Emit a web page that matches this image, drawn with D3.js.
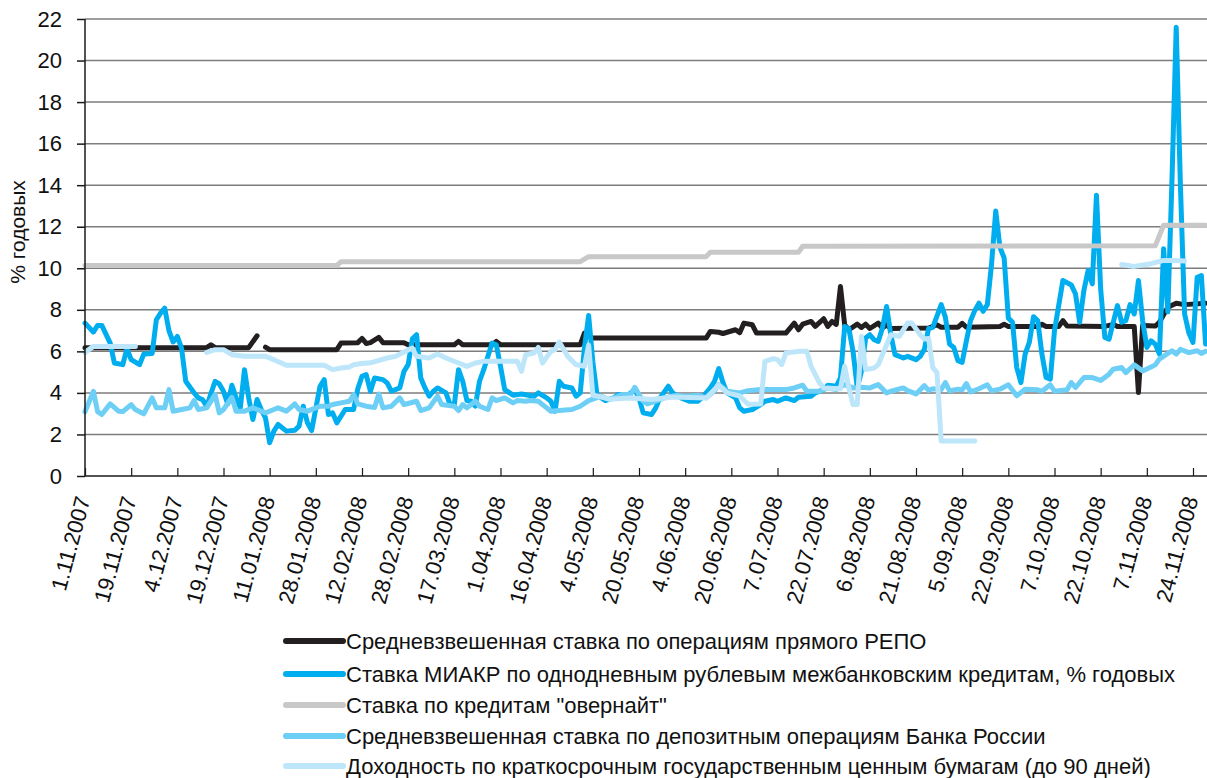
<!DOCTYPE html>
<html><head><meta charset="utf-8">
<script src="https://cdn.jsdelivr.net/npm/d3@7"></script>
<style>
html,body{margin:0;padding:0;background:#fff;}
svg{display:block;font-family:"Liberation Sans",Arial,Helvetica,sans-serif;}
</style></head>
<body>
<svg id="chart" width="1207" height="778"></svg>
<script>
// Tick labels (every 11th trading day)
const tickLabels = ["1.11.2007","19.11.2007","4.12.2007","19.12.2007","11.01.2008","28.01.2008","12.02.2008","28.02.2008","17.03.2008","1.04.2008","16.04.2008","4.05.2008","20.05.2008","4.06.2008","20.06.2008","7.07.2008","22.07.2008","6.08.2008","21.08.2008","5.09.2008","22.09.2008","7.10.2008","22.10.2008","7.11.2008","24.11.2008"];
const tickStep = 11;
const yTicks = [0,2,4,6,8,10,12,14,16,18,20,22];

const seriesNames = [
  "Средневзвешенная ставка по операциям прямого РЕПО",
  "Ставка МИАКР по однодневным рублевым межбанковским кредитам, % годовых",
  "Ставка по кредитам \"овернайт\"",
  "Средневзвешенная ставка по депозитным операциям Банка России",
  "Доходность по краткосрочным государственным ценным бумагам (до 90 дней)"
];
const seriesColors = ["#231f20","#00aeef","#c8c8c9","#6dcff6","#bde6fa"];

// [trading-day index, % per annum]; null = no data
const repo = [[0,6.18],[29,6.18],[30,6.32],[31,6.18],[39,6.18],[41,6.75],[42,null],[43,6.2],[44,6.08],[60,6.08],[61,6.4],[65,6.42],[66,6.62],[67,6.38],[68,6.42],[70,6.67],[71,6.42],[76,6.42],[77,6.32],[88,6.32],[89,6.48],[90,6.32],[97,6.32],[98,6.48],[99,6.32],[118,6.32],[119,6.88],[121,6.64],[148,6.64],[149,6.96],[151,6.92],[152,6.86],[155,7.04],[156,6.9],[157,7.36],[159,7.28],[160,6.88],[167,6.88],[169,7.36],[170,7.04],[171,7.31],[173,7.44],[174,7.2],[176,7.57],[177,7.2],[178,7.44],[179,7.3],[180,9.12],[181,7.28],[182,7.04],[184,7.31],[185,7.15],[186,7.31],[187,7.1],[189,7.36],[190,7.12],[191,7.28],[192,7.1],[201,7.12],[203,7.28],[204,7.16],[208,7.16],[209,7.35],[210,7.16],[218,7.2],[219,7.3],[220,7.2],[227,7.2],[228,7.3],[229,7.2],[232,7.2],[233,7.48],[234,7.22],[243,7.2],[245,7.3],[246,7.2],[250,7.2],[251,4.02],[252,7.25],[255,7.22],[256,7.4],[258,8.12],[260,8.32],[262,8.25],[267,8.32]];

const miakr = [[0,7.36],[2,6.93],[3,7.25],[4,7.25],[6,6.4],[7,5.44],[9,5.36],[10,6.13],[11,5.6],[13,5.36],[14,5.87],[16,5.9],[17,7.52],[18,7.84],[19,8.08],[20,7.0],[21,6.45],[22,6.72],[23,6.16],[24,4.56],[26,4.0],[27,3.76],[28,3.68],[29,3.36],[31,4.56],[32,4.43],[33,4.08],[34,3.47],[35,4.37],[36,3.76],[37,3.28],[38,5.12],[39,3.76],[40,2.72],[41,3.68],[42,3.2],[43,2.8],[44,1.6],[45,2.16],[46,2.48],[48,2.16],[50,2.2],[51,2.4],[52,3.36],[53,2.56],[54,2.19],[56,4.32],[57,4.64],[58,2.96],[59,3.04],[60,2.56],[62,3.2],[64,3.2],[65,4.2],[66,4.8],[67,4.88],[68,4.08],[69,4.72],[71,4.64],[72,4.48],[73,4.08],[75,4.24],[76,5.04],[77,5.36],[78,6.6],[79,6.8],[80,4.72],[81,4.24],[82,3.84],[83,4.08],[84,4.24],[86,4.0],[87,3.44],[88,3.44],[89,5.12],[90,4.56],[91,3.63],[92,3.6],[93,3.36],[94,4.56],[95,5.12],[96,5.76],[97,6.4],[98,6.32],[99,5.28],[100,4.16],[102,3.89],[104,3.95],[107,3.84],[108,4.0],[110,3.76],[111,3.6],[112,3.12],[113,4.56],[114,4.32],[116,4.24],[117,3.84],[118,4.0],[119,6.16],[120,7.73],[121,5.5],[122,3.9],[124,3.63],[126,3.76],[127,3.92],[129,3.84],[131,4.16],[132,3.76],[133,3.04],[135,2.96],[136,3.28],[137,3.76],[139,4.32],[140,4.0],[142,3.76],[144,3.6],[146,3.6],[147,3.76],[149,4.24],[150,4.56],[151,5.17],[152,4.5],[153,4.0],[155,3.76],[156,3.28],[157,3.12],[159,3.2],[161,3.44],[162,3.6],[164,3.68],[165,3.6],[167,3.76],[169,3.63],[170,3.79],[173,3.84],[174,4.0],[176,4.16],[177,4.37],[179,4.32],[180,4.72],[181,7.2],[182,7.1],[183,6.0],[184,4.24],[185,5.04],[186,6.64],[187,6.8],[188,6.56],[189,6.48],[190,7.12],[191,8.16],[192,6.8],[193,5.84],[195,5.68],[196,5.76],[198,5.6],[199,5.76],[200,6.1],[201,7.1],[202,7.16],[204,8.25],[205,7.64],[206,6.35],[207,6.19],[208,5.55],[209,5.47],[210,6.5],[211,7.48],[212,7.96],[213,8.32],[214,7.93],[215,8.25],[216,10.2],[217,12.76],[218,11.0],[219,10.5],[220,7.6],[221,7.4],[222,5.22],[223,4.5],[224,5.87],[225,6.43],[226,7.67],[227,7.48],[228,5.87],[229,4.74],[230,4.66],[231,7.0],[233,9.41],[234,9.3],[235,9.2],[236,8.77],[237,7.4],[238,8.93],[239,9.89],[240,9.25],[241,13.52],[242,9.0],[243,6.67],[244,6.59],[246,8.2],[247,7.4],[248,7.48],[249,8.25],[250,7.8],[251,9.41],[252,7.48],[253,6.19],[254,6.51],[255,6.35],[256,5.87],[257,10.94],[258,7.9],[259,14.3],[260,21.6],[261,14.0],[262,7.8],[263,6.9],[264,6.43],[265,9.57],[266,9.65],[267,6.35]];

const overnight = [[0,10.13],[60,10.13],[61,10.32],[118,10.32],[120,10.56],[148,10.56],[149,10.77],[170,10.77],[171,11.06],[255,11.08],[257,12.07],[267,12.07]];

const deposit = [[0,3.09],[2,4.08],[3,3.1],[4,2.96],[6,3.47],[8,3.12],[9,3.1],[11,3.44],[12,3.2],[14,2.99],[16,3.76],[17,3.28],[19,3.28],[20,4.16],[21,3.12],[23,3.2],[25,3.28],[26,3.63],[27,3.2],[29,3.28],[31,3.92],[32,3.04],[33,3.2],[35,3.79],[36,3.12],[38,3.12],[40,3.28],[41,3.2],[43,3.04],[45,3.2],[46,3.28],[48,3.12],[50,3.47],[51,3.2],[53,3.12],[56,3.36],[58,3.36],[59,3.44],[61,3.52],[63,3.6],[64,3.92],[65,3.47],[67,3.36],[69,3.3],[70,3.95],[71,3.28],[73,3.36],[75,3.76],[76,3.44],[79,3.6],[80,3.15],[82,3.28],[84,3.84],[85,3.44],[88,3.36],[89,3.15],[90,3.44],[91,3.28],[93,3.6],[94,3.36],[96,3.2],[97,3.76],[98,3.63],[100,3.76],[102,3.52],[103,3.63],[105,3.6],[106,3.63],[108,3.6],[110,3.28],[111,3.12],[113,3.15],[116,3.2],[118,3.36],[120,3.63],[123,3.84],[125,3.68],[126,3.76],[128,3.92],[130,3.92],[131,4.27],[132,3.92],[133,3.6],[134,3.47],[136,3.6],[138,3.76],[141,3.89],[143,3.84],[146,3.89],[148,3.76],[150,4.11],[151,4.4],[153,4.08],[156,4.0],[158,4.11],[161,4.16],[164,4.16],[167,4.16],[169,4.24],[171,4.37],[172,4.08],[175,4.08],[177,4.24],[179,4.16],[181,4.4],[183,4.24],[185,4.27],[187,4.24],[189,4.4],[191,4.0],[192,4.08],[195,4.24],[196,4.11],[198,3.95],[200,4.35],[201,4.12],[202,4.2],[204,4.16],[205,4.5],[206,4.1],[208,4.18],[209,4.15],[210,4.45],[211,4.05],[213,4.2],[215,4.39],[216,4.1],[218,4.18],[220,4.39],[222,3.86],[224,4.18],[227,4.15],[228,4.08],[230,4.39],[231,4.08],[234,4.15],[235,4.5],[236,4.26],[238,4.74],[240,4.74],[242,4.6],[244,4.9],[245,5.14],[247,5.22],[248,4.98],[250,5.35],[252,5.06],[254,5.25],[255,5.35],[256,5.63],[258,5.9],[259,6.03],[260,5.87],[261,6.1],[263,5.94],[265,6.03],[266,5.9],[267,6.0]];

const tbills = [[0,5.95],[2,6.24],[12,6.24],[13,null],[29,5.95],[31,6.08],[33,6.08],[35,5.84],[38,5.76],[43,5.76],[45,5.6],[48,5.33],[57,5.33],[59,5.12],[61,5.2],[63,5.25],[64,5.36],[66,5.42],[68,5.45],[72,5.68],[74,5.76],[76,5.97],[78,6.16],[79,5.76],[82,5.68],[84,5.87],[86,5.68],[89,5.44],[91,5.28],[93,5.44],[95,5.52],[103,5.52],[104,5.04],[105,5.84],[107,5.92],[108,6.19],[109,5.44],[111,6.0],[112,6.08],[113,6.45],[115,5.76],[117,5.36],[119,5.28],[120,6.3],[121,3.9],[125,3.7],[130,3.75],[135,3.68],[140,3.8],[148,3.76],[151,4.37],[153,4.0],[156,3.85],[158,3.45],[161,3.47],[162,5.52],[164,5.65],[165,5.6],[166,5.36],[167,5.92],[170,6.0],[172,6.0],[173,5.28],[175,4.48],[176,4.24],[180,4.2],[181,5.28],[182,4.24],[183,3.44],[184,3.44],[185,6.72],[186,5.12],[188,5.2],[189,5.36],[191,6.32],[192,6.8],[194,6.72],[196,7.36],[197,7.36],[199,6.8],[200,6.6],[201,6.62],[202,5.22],[203,4.98],[204,1.68],[212,1.68],[213,null],[247,10.18],[250,10.09],[254,10.22],[257,10.38],[259,10.38],[262,10.35]];

const seriesData = [repo, miakr, overnight, deposit, tbills];

// ---- drawing ----
const svg = d3.select("#chart");
const plotLeft = 85, plotRight = 1207, plotTop = 19, plotBottom = 476;
const lastTick = (tickLabels.length - 1) * tickStep;
const x = d3.scaleLinear().domain([0, lastTick]).range([plotLeft, 1193]);
const y = d3.scaleLinear().domain([0, 22]).range([plotBottom, plotTop]);

// gridlines
svg.append("g").selectAll("line").data(yTicks.filter(v => v > 0)).join("line")
  .attr("x1", plotLeft).attr("x2", plotRight)
  .attr("y1", d => y(d)).attr("y2", d => y(d))
  .attr("stroke", "#7d7d7d").attr("stroke-width", 1.5);

// series
const line = d3.line()
  .defined(d => d[1] !== null)
  .x(d => x(d[0])).y(d => y(d[1]));
const plot = svg.append("g");
seriesData.forEach((s, i) => {
  plot.append("path").datum(s)
    .attr("d", line)
    .attr("fill", "none")
    .attr("stroke", seriesColors[i])
    .attr("stroke-width", 5)
    .attr("stroke-linejoin", "round")
    .attr("stroke-linecap", "round");
});

// y axis
const yAxis = d3.axisLeft(y).tickValues(yTicks).tickSize(8).tickPadding(15).tickFormat(d3.format("d"));
const gy = svg.append("g").attr("transform", `translate(${plotLeft},0)`).call(yAxis);
gy.select(".domain").remove();
gy.selectAll(".tick line").attr("stroke", "#1a1a1a").attr("stroke-width", 1.5);
gy.selectAll(".tick text").attr("font-size", 22).attr("fill", "#111")
  .attr("font-family", "'Liberation Sans',Arial,sans-serif");
svg.append("line").attr("x1", plotLeft).attr("x2", plotLeft).attr("y1", plotTop).attr("y2", plotBottom)
  .attr("stroke", "#1a1a1a").attr("stroke-width", 1.5);

// x axis
const xAxis = d3.axisBottom(x).tickValues(d3.range(0, lastTick + 1, tickStep))
  .tickSize(-8).tickFormat((d, i) => tickLabels[i]);
const gx = svg.append("g").attr("transform", `translate(0,${plotBottom})`).call(xAxis);
gx.select(".domain").remove();
gx.selectAll(".tick line").attr("stroke", "#1a1a1a").attr("stroke-width", 1.2);
gx.selectAll(".tick text")
  .attr("font-size", 22).attr("fill", "#111")
  .attr("font-family", "'Liberation Sans',Arial,sans-serif")
  .attr("text-anchor", "end")
  .attr("y", 0).attr("dy", 0)
  .attr("transform", "translate(5,23) rotate(-75)");
svg.append("line").attr("x1", plotLeft).attr("x2", plotRight).attr("y1", plotBottom).attr("y2", plotBottom)
  .attr("stroke", "#1a1a1a").attr("stroke-width", 1.5);

// y title
svg.append("text")
  .attr("transform", `translate(25,232) rotate(-90)`)
  .attr("text-anchor", "middle")
  .attr("font-size", 21).attr("fill", "#111")
  .text("% годовых");

// legend
const legendY = [641, 674, 705, 736, 766];
const lg = svg.append("g");
seriesNames.forEach((name, i) => {
  lg.append("line").attr("x1", 286).attr("x2", 343)
    .attr("y1", legendY[i]).attr("y2", legendY[i])
    .attr("stroke", seriesColors[i]).attr("stroke-width", 6).attr("stroke-linecap", "round");
  lg.append("text").attr("x", 346).attr("y", legendY[i] + 8)
    .attr("font-size", 22).attr("fill", "#111").text(name);
});
</script>
</body></html>
